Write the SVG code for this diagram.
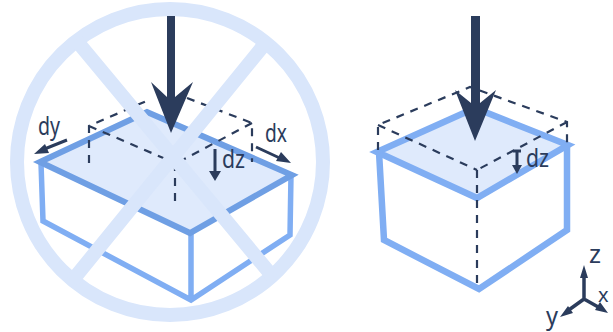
<svg xmlns="http://www.w3.org/2000/svg" width="613" height="332" viewBox="0 0 613 332">
<style>
.face{fill:#dfeafc;stroke:#6f9fe4;stroke-width:6;stroke-linejoin:miter}
.side{fill:none;stroke:#80aef3;stroke-width:5.5}
.side2{fill:none;stroke:#80aef3;stroke-width:6.5}
.dash{fill:none;stroke:#2b3c5c;stroke-width:2.2;stroke-dasharray:8 7}
.ban{fill:none;stroke:#d9e6fb;stroke-width:14}
.ar{fill:#2b3c5c;stroke:none}
.thin{fill:none;stroke:#2b3c5c;stroke-width:3}
text{font-family:"Noto Sans","Liberation Sans",sans-serif;font-size:25px;fill:#2b3c5c}
</style>
<rect width="613" height="332" fill="#fff"/>
<g id="left-box">
<path class="side" d="M41 163L43 221L191 300L290 235L291 175M191 233L191 300"/>
<path class="face" d="M40 162L147 112L292 175L190 233Z"/>
</g>
<g id="left-dashed">
<path class="dash" d="M89 163V126L151 99M187 98L252 123V162M252 123L175 164M89 126L175 163M175 163V204"/>
</g>
<g id="prohibition">
<circle class="ban" cx="170" cy="162" r="153"/>
<path class="ban" d="M76 40L273 277M268 40L72 281"/>
</g>
<g id="left-arrow">
<path class="ar" d="M167 16H175V97L193 82L171 133L151 82L167 97Z"/>
</g>
<g id="left-labels">
<path class="thin" d="M215 149V174M67 140L42 150M256 147L284 160"/>
<path class="ar" d="M215 181L209 171H221ZM34 154L45 144L49 153ZM291 163L276 161L281 152Z"/>
<text x="222" y="168" textLength="23" lengthAdjust="spacingAndGlyphs">dz</text>
<text x="38" y="135" textLength="22" lengthAdjust="spacingAndGlyphs">dy</text>
<text x="265" y="142" textLength="22" lengthAdjust="spacingAndGlyphs">dx</text>
</g>
<g id="right-box">
<path class="face" style="stroke:#80aef3;stroke-width:6.5" d="M377 152L475 108L568 145L477 198Z"/>
<path class="side2" d="M379 152L384 240L479 289L567 230V145"/>
</g>
<g id="right-dashed">
<path class="dash" d="M378 150V125L470 87L567 122V143M567 122L477 170M378 125L477 170M477 170V287"/>
</g>
<g id="right-arrow">
<path class="ar" d="M471 16H480V103L496 90L475 141L455 90L471 103Z"/>
</g>
<g id="right-labels">
<path class="thin" d="M517 151V167M513 151H521"/>
<path class="ar" d="M517 174L512 165H522Z"/>
<text x="526" y="167" textLength="23" lengthAdjust="spacingAndGlyphs">dz</text>
</g>
<g id="axes">
<path class="thin" style="stroke-width:3.5" d="M584 272V299L566 312M584 299L600 308"/>
<path class="ar" d="M584 265L588 278H580ZM560 317L568 306L573 313ZM608 313L595 310L600 302Z"/>
<text x="589" y="263" textLength="12" lengthAdjust="spacingAndGlyphs">z</text>
<text x="546" y="325" textLength="12" lengthAdjust="spacingAndGlyphs">y</text>
<text x="598" y="302" style="font-size:20px">x</text>
</g>
</svg>
